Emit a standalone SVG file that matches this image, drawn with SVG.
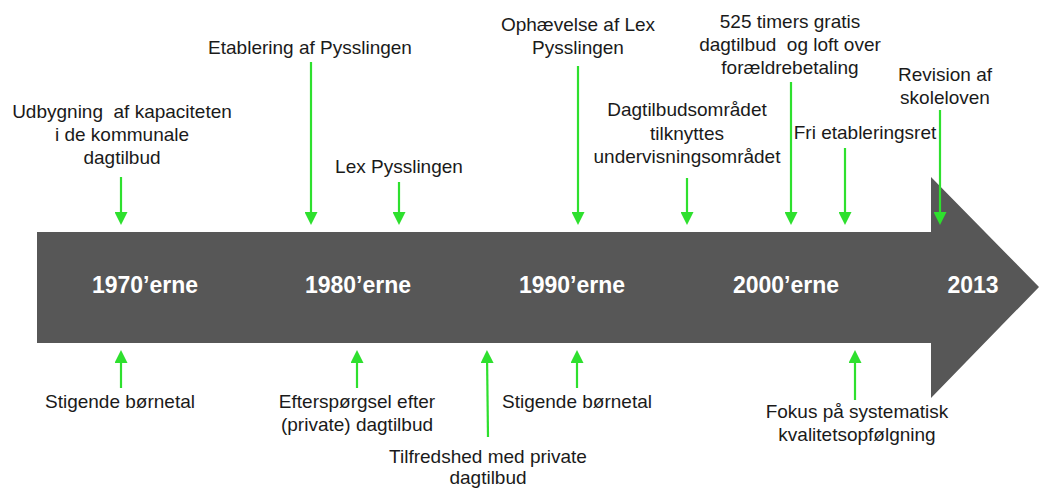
<svg xmlns="http://www.w3.org/2000/svg" width="1039" height="488" viewBox="0 0 1039 488">
  <style>
    .lbl { font-family: "Liberation Sans", Arial, sans-serif; font-size: 19px; fill: #1a1a1a; text-anchor: middle; }
    .yr { font-family: "Liberation Sans", Arial, sans-serif; font-size: 23px; font-weight: bold; fill: #ffffff; text-anchor: middle; }
    .con { stroke: #2ee02e; stroke-width: 2.2; fill: none; marker-end: url(#ah); }
  </style>
  <defs>
    <marker id="ah" markerWidth="13" markerHeight="13" refX="9" refY="6.5" orient="auto" markerUnits="userSpaceOnUse">
      <path d="M0,0 L13,6.5 L0,13 Z" fill="#2ee02e"/>
    </marker>
  </defs>
  <rect width="1039" height="488" fill="#ffffff"/>

  <g id="timeline">
    <polygon points="37,232 931,232 931,177 1039,287 931,398 931,343 37,343" fill="#575757"/>
    <text class="yr" x="145" y="293">1970’erne</text>
    <text class="yr" x="358" y="293">1980’erne</text>
    <text class="yr" x="572" y="293">1990’erne</text>
    <text class="yr" x="786" y="293">2000’erne</text>
    <text class="yr" x="973" y="293">2013</text>
  </g>

  <g id="connectors">
    <line class="con" x1="121" y1="177" x2="121" y2="221"/>
    <line class="con" x1="311" y1="62" x2="311" y2="221"/>
    <line class="con" x1="399" y1="182" x2="399" y2="221"/>
    <line class="con" x1="578" y1="66" x2="578" y2="221"/>
    <line class="con" x1="687" y1="178" x2="687" y2="221"/>
    <line class="con" x1="791" y1="82" x2="791" y2="221"/>
    <line class="con" x1="845" y1="148" x2="845" y2="221"/>
    <line class="con" x1="940" y1="110" x2="940" y2="221"/>
    <line class="con" x1="121" y1="388" x2="121" y2="354"/>
    <line class="con" x1="357" y1="388" x2="357" y2="354"/>
    <line class="con" x1="488" y1="437" x2="487" y2="354"/>
    <line class="con" x1="577" y1="388" x2="577" y2="354"/>
    <line class="con" x1="855" y1="400" x2="855" y2="354"/>
  </g>

  <g id="n-udbygning">
    <text class="lbl" x="122" y="118" xml:space="preserve">Udbygning  af kapaciteten</text>
    <text class="lbl" x="122" y="141">i de kommunale</text>
    <text class="lbl" x="122" y="164">dagtilbud</text>
  </g>
  <g id="n-etablering">
    <text class="lbl" x="310" y="54">Etablering af Pysslingen</text>
  </g>
  <g id="n-lex">
    <text class="lbl" x="399" y="173">Lex Pysslingen</text>
  </g>
  <g id="n-ophaevelse">
    <text class="lbl" x="578" y="31">Ophævelse af Lex</text>
    <text class="lbl" x="578" y="54">Pysslingen</text>
  </g>
  <g id="n-dagtilbudsomraadet">
    <text class="lbl" x="687" y="116">Dagtilbudsområdet</text>
    <text class="lbl" x="687" y="140">tilknyttes</text>
    <text class="lbl" x="687" y="163">undervisningsområdet</text>
  </g>
  <g id="n-525">
    <text class="lbl" x="790" y="28">525 timers gratis</text>
    <text class="lbl" x="790" y="51" xml:space="preserve">dagtilbud  og loft over</text>
    <text class="lbl" x="790" y="74">forældrebetaling</text>
  </g>
  <g id="n-fri">
    <text class="lbl" x="865" y="139">Fri etableringsret</text>
  </g>
  <g id="n-revision">
    <text class="lbl" x="945" y="81">Revision af</text>
    <text class="lbl" x="945" y="104">skoleloven</text>
  </g>

  <g id="n-stigende1">
    <text class="lbl" x="120" y="408">Stigende børnetal</text>
  </g>
  <g id="n-efterspoergsel">
    <text class="lbl" x="357" y="408">Efterspørgsel efter</text>
    <text class="lbl" x="357" y="431">(private) dagtilbud</text>
  </g>
  <g id="n-tilfredshed">
    <text class="lbl" x="488" y="463">Tilfredshed med private</text>
    <text class="lbl" x="488" y="484">dagtilbud</text>
  </g>
  <g id="n-stigende2">
    <text class="lbl" x="577" y="408">Stigende børnetal</text>
  </g>
  <g id="n-fokus">
    <text class="lbl" x="857" y="418">Fokus på systematisk</text>
    <text class="lbl" x="857" y="441">kvalitetsopfølgning</text>
  </g>
</svg>
